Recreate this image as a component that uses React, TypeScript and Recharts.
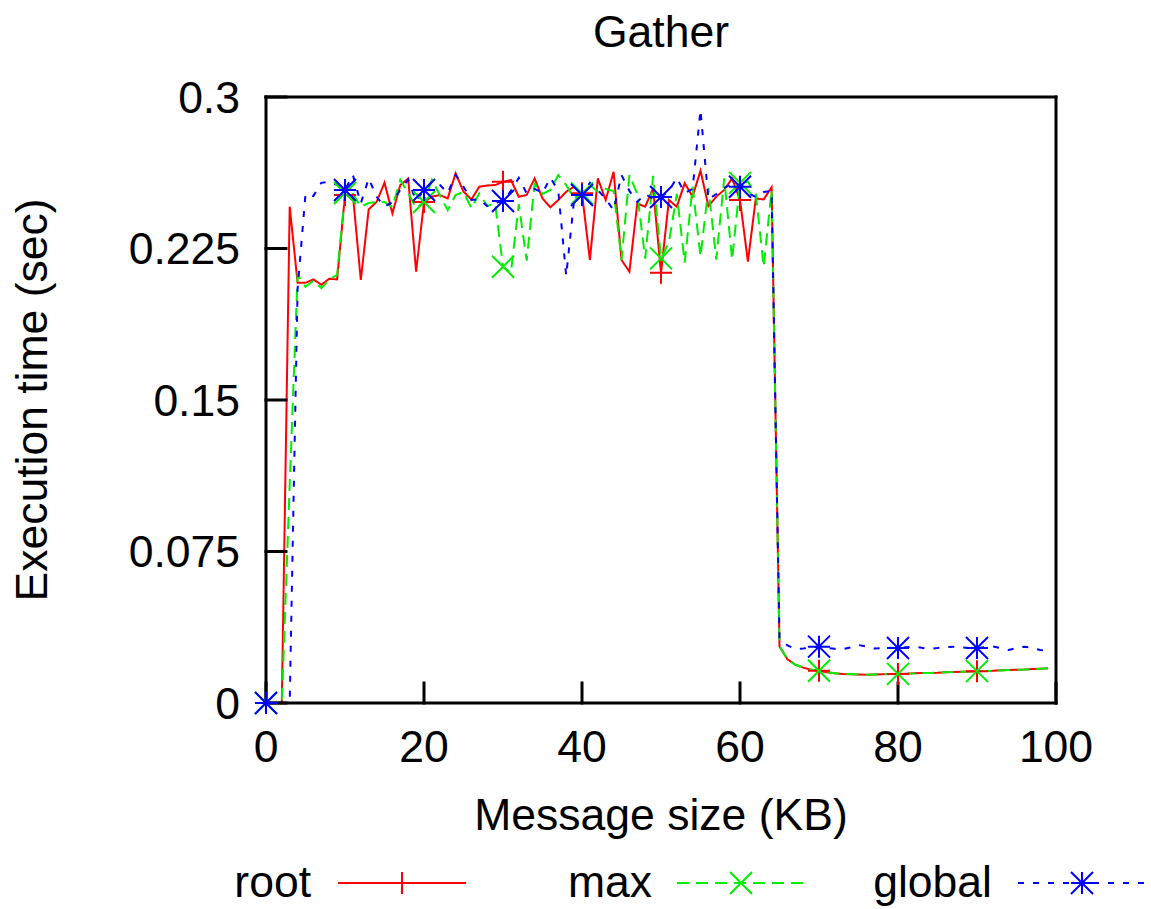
import React from "react";
import { LineChart, Line, XAxis, YAxis, Legend } from "recharts";

// message sizes in KB, one sample per KB
const sizesKB = Array.from({ length: 100 }, (_, i) => i);

const rootTimes = [
  0, 0, 0, 0.2457, 0.208, 0.208, 0.2097, 0.207, 0.21, 0.2097,
  0.2515, 0.2515, 0.2094, 0.2444, 0.248, 0.2576, 0.2424, 0.2564, 0.2597, 0.2135,
  0.248, 0.2506, 0.2515, 0.2498, 0.2622, 0.2531, 0.2493, 0.2556, 0.2562, 0.2564,
  0.258, 0.2589, 0.2506, 0.2515, 0.2597, 0.2498, 0.2454, 0.249, 0.2531, 0.2556,
  0.2523, 0.2193, 0.2597, 0.249, 0.263, 0.2193, 0.2135, 0.2473, 0.2457, 0.2548,
  0.213, 0.249, 0.2457, 0.2573, 0.2507, 0.2635, 0.246, 0.2507, 0.254, 0.2597,
  0.249, 0.2185, 0.2498, 0.2493, 0.2553, 0.028, 0.0216, 0.019, 0.0175, 0.0165,
  0.016, 0.0152, 0.0147, 0.0144, 0.0142, 0.0141, 0.014, 0.0141, 0.0142, 0.0143,
  0.0144, 0.0145, 0.0147, 0.0148, 0.0149, 0.015, 0.0152, 0.0153, 0.0155, 0.0156,
  0.0157, 0.0159, 0.016, 0.0162, 0.0163, 0.0165, 0.0166, 0.0168, 0.017, 0.0172,
];

const maxTimes = [
  0, 0, 0, 0.108, 0.2119, 0.206, 0.209, 0.2054, 0.2097, 0.212,
  0.2525, 0.252, 0.2457, 0.2475, 0.248, 0.248, 0.2455, 0.259, 0.2525, 0.245,
  0.248, 0.259, 0.2515, 0.244, 0.2515, 0.253, 0.2449, 0.2523, 0.246, 0.2475,
  0.216, 0.213, 0.247, 0.219, 0.257, 0.252, 0.254, 0.2614, 0.2564, 0.2498,
  0.2523, 0.2564, 0.2531, 0.2545, 0.2535, 0.2193, 0.2614, 0.252, 0.22, 0.261,
  0.2201, 0.228, 0.252, 0.218, 0.2556, 0.221, 0.255, 0.2195, 0.2597, 0.2195,
  0.2575, 0.258, 0.252, 0.216, 0.254, 0.0282, 0.0218, 0.0189, 0.0176, 0.0166,
  0.016, 0.0153, 0.0147, 0.0144, 0.0143, 0.0141, 0.014, 0.0141, 0.0142, 0.0143,
  0.0144, 0.0145, 0.0146, 0.0148, 0.0149, 0.0151, 0.0152, 0.0153, 0.0155, 0.0156,
  0.0158, 0.0159, 0.016, 0.0161, 0.0163, 0.0165, 0.0166, 0.0168, 0.0169, 0.0172,
];

const globalTimes = [
  0, 0, 0, 0, 0.205, 0.252, 0.251, 0.2575, 0.258, 0.2565,
  0.254, 0.2614, 0.2473, 0.2597, 0.2506, 0.2457, 0.248, 0.254, 0.259, 0.2485,
  0.254, 0.258, 0.2565, 0.2525, 0.2615, 0.2556, 0.249, 0.2495, 0.246, 0.2475,
  0.2485, 0.2535, 0.26, 0.2523, 0.2545, 0.2525, 0.26, 0.2535, 0.2115, 0.249,
  0.2515, 0.2575, 0.254, 0.2495, 0.244, 0.2614, 0.2535, 0.248, 0.252, 0.2495,
  0.2505, 0.2535, 0.26, 0.2525, 0.2545, 0.2936, 0.2493, 0.252, 0.255, 0.257,
  0.2556, 0.2525, 0.2505, 0.253, 0.2535, 0.032, 0.0285, 0.0268, 0.027, 0.0275,
  0.0279, 0.0272, 0.0268, 0.0266, 0.0275, 0.0287, 0.028, 0.027, 0.0272, 0.0274,
  0.0272, 0.0276, 0.0279, 0.0273, 0.0268, 0.0272, 0.0277, 0.0279, 0.0275, 0.0272,
  0.0272, 0.0277, 0.028, 0.0272, 0.0262, 0.0272, 0.0279, 0.0272, 0.0262, 0.0259,
];

const xTicks = [0, 20, 40, 60, 80, 100];
const yTicks = [0, 0.075, 0.15, 0.225, 0.3];

const FONT = "'Liberation Sans', Arial, sans-serif";
const FONT_SIZE = 44.5;
const MARK_EVERY = 10;
const MARK_SIZE = 11;
const LINE_W = 2;

type MarkerKind = "plus" | "cross" | "star";

const SERIES = [
  { key: "root", color: "#ff0000", dash: undefined, marker: "plus" as MarkerKind, textEnd: 311, lineFrom: 338 },
  { key: "max", color: "#00ee00", dash: "12 7", marker: "cross" as MarkerKind, textEnd: 652, lineFrom: 677 },
  { key: "global", color: "#0000ff", dash: "6 9", marker: "star" as MarkerKind, textEnd: 992, lineFrom: 1018 },
];

const data = sizesKB.map((kb, i) => ({
  kb,
  root: rootTimes[i],
  max: maxTimes[i],
  global: globalTimes[i],
}));

function Marker({ kind, cx, cy, color }: { kind: MarkerKind; cx: number; cy: number; color: string }) {
  const s = MARK_SIZE;
  const plus = `M${cx - s},${cy}H${cx + s}M${cx},${cy - s}V${cy + s}`;
  const cross = `M${cx - s},${cy - s}L${cx + s},${cy + s}M${cx - s},${cy + s}L${cx + s},${cy - s}`;
  const path = kind === "plus" ? plus : kind === "cross" ? cross : plus + cross;
  return <path d={path} stroke={color} strokeWidth={LINE_W} fill="none" />;
}

function makeDot(kind: MarkerKind, color: string) {
  return (props: any) => {
    const { cx, cy, index } = props;
    if (index % MARK_EVERY !== 0 || cx == null || cy == null) {
      return <g key={`dot-${index}`} />;
    }
    return (
      <g key={`dot-${index}`}>
        <Marker kind={kind} cx={cx} cy={cy} color={color} />
      </g>
    );
  };
}

function KeyRow() {
  const y = 33;
  return (
    <svg width={1151} height={60} style={{ display: "block" }}>
      {SERIES.map(s => (
        <g key={s.key}>
          <text
            x={s.textEnd}
            y={47}
            textAnchor="end"
            fontFamily={FONT}
            fontSize={FONT_SIZE}
            fill="#000"
          >
            {s.key}
          </text>
          <line
            x1={s.lineFrom}
            x2={s.lineFrom + 128}
            y1={y}
            y2={y}
            stroke={s.color}
            strokeWidth={LINE_W}
            strokeDasharray={s.dash}
          />
          <Marker kind={s.marker} cx={s.lineFrom + 64} cy={y} color={s.color} />
        </g>
      ))}
    </svg>
  );
}

const frame = { stroke: "#000", strokeWidth: 3, strokeLinecap: "square" as const };
const tickStyle = { fill: "#000", fontSize: FONT_SIZE, fontFamily: FONT };

export default function App() {
  return (
    <div style={{ position: "absolute", left: 0, top: 0, width: 1151, height: 909, background: "#fff" }}>
      <LineChart
        width={1151}
        height={909}
        data={data}
        margin={{ top: 96, right: 94, bottom: 106, left: 0 }}
      >
        <XAxis
          dataKey="kb"
          type="number"
          domain={[0, 100]}
          ticks={xTicks}
          interval={0}
          height={100}
          axisLine={frame}
          tickLine={frame}
          tickSize={-20}
          tickMargin={47}
          tick={tickStyle}
          label={(props: any) => {
            const vb = props.viewBox;
            return (
              <text
                x={vb.x + vb.width / 2}
                y={830}
                textAnchor="middle"
                fontFamily={FONT}
                fontSize={FONT_SIZE}
                fill="#000"
              >
                Message size (KB)
              </text>
            );
          }}
        />
        <XAxis
          xAxisId="top"
          orientation="top"
          dataKey="kb"
          type="number"
          domain={[0, 100]}
          ticks={xTicks}
          interval={0}
          height={1}
          axisLine={frame}
          tickLine={frame}
          tickSize={-20}
          tick={false}
          label={(props: any) => {
            const vb = props.viewBox;
            return (
              <text
                x={vb.x + vb.width / 2}
                y={47}
                textAnchor="middle"
                fontFamily={FONT}
                fontSize={FONT_SIZE}
                fill="#000"
              >
                Gather
              </text>
            );
          }}
        />
        <YAxis
          type="number"
          domain={[0, 0.3]}
          ticks={yTicks}
          interval={0}
          width={266}
          axisLine={frame}
          tickLine={frame}
          tickSize={-20}
          tickMargin={46}
          tick={tickStyle}
          label={(props: any) => {
            const vb = props.viewBox;
            const cy = vb.y + vb.height / 2;
            return (
              <text
                x={47}
                y={cy}
                transform={`rotate(-90 47 ${cy})`}
                textAnchor="middle"
                fontFamily={FONT}
                fontSize={FONT_SIZE}
                fill="#000"
              >
                Execution time (sec)
              </text>
            );
          }}
        />
        <YAxis
          yAxisId="right"
          orientation="right"
          type="number"
          domain={[0, 0.3]}
          ticks={yTicks}
          interval={0}
          width={1}
          axisLine={frame}
          tickLine={frame}
          tickSize={-20}
          tick={false}
        />
        {/* invisible series so the mirrored top/right axes get drawn */}
        <Line
          dataKey="root"
          xAxisId="top"
          yAxisId="right"
          stroke="none"
          dot={false}
          activeDot={false}
          legendType="none"
          isAnimationActive={false}
        />
        {SERIES.map(s => (
          <Line
            key={s.key}
            dataKey={s.key}
            type="linear"
            stroke={s.color}
            strokeWidth={LINE_W}
            strokeDasharray={s.dash}
            dot={makeDot(s.marker, s.color)}
            activeDot={false}
            isAnimationActive={false}
          />
        ))}
        <Legend
          layout="horizontal"
          verticalAlign="middle"
          align="center"
          wrapperStyle={{ top: 850, left: 0, width: 1151, height: 60 }}
          content={() => <KeyRow />}
        />
      </LineChart>
    </div>
  );
}
